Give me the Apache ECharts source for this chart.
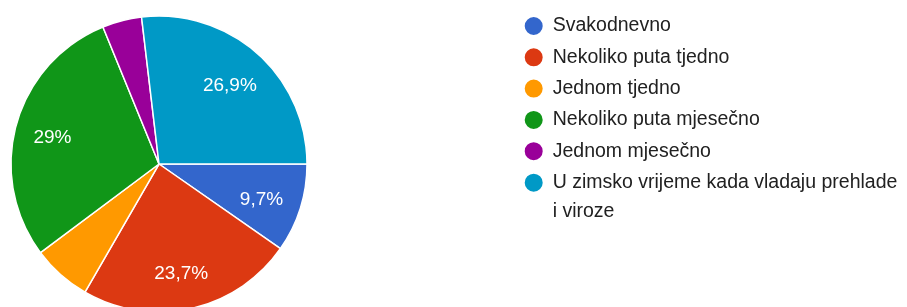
<!DOCTYPE html>
<html>
<head>
<meta charset="utf-8">
<script src="https://cdn.jsdelivr.net/npm/echarts@6/dist/echarts.min.js"></script>
<style>
  html, body { margin: 0; padding: 0; background: #fff; }
  #chart { width: 907px; height: 307px; }
</style>
</head>
<body>
<div id="chart"></div>
<script>
// odgovori (broj ispitanika po kategoriji)
const categories = [
    "Svakodnevno",
    "Nekoliko puta tjedno",
    "Jednom tjedno",
    "Nekoliko puta mjesečno",
    "Jednom mjesečno",
    "U zimsko vrijeme kada vladaju prehlade i viroze"
];
const counts = [9, 22, 6, 27, 4, 25];
const colors = ["#3366cc", "#dc3912", "#ff9900", "#109618", "#990099", "#0099c6"];

const total = counts.reduce((a, b) => a + b, 0);

// 23.7 -> "23,7%", 29.0 -> "29%"
function fmtPct(v) {
    let p = Math.round(v / total * 1000) / 10;
    return String(p).replace(".", ",") + "%";
}

const pieData = categories.map((name, i) => ({
    name: name,
    value: counts[i],
    itemStyle: { color: colors[i] }
}));

const legendText = {
    fontFamily: "Arial",
    fontSize: 19.5,
    lineHeight: 29,
    color: "#212121"
};

const myChart = echarts.init(document.getElementById("chart"), null, { renderer: "canvas" });

myChart.setOption({
    animation: false,
    legend: [
        {
            orient: "vertical",
            left: 522.7,
            top: 11.5,
            padding: 0,
            icon: "circle",
            itemWidth: 28,
            itemHeight: 20,
            itemGap: 2.3,
            selectedMode: false,
            data: categories.slice(0, 5),
            textStyle: legendText
        },
        {
            // zadnja stavka ide u dva reda, ikona uz prvi red
            // (prazan red gore da tekst ne bude centriran na ikonu)
            orient: "vertical",
            left: 522.7,
            top: 139.2,
            padding: 0,
            icon: "circle",
            itemWidth: 28,
            itemHeight: 20,
            selectedMode: false,
            data: categories.slice(5),
            formatter: name => "\n" + name.replace(" prehlade ", " prehlade\n"),
            textStyle: legendText
        }
    ],
    series: [
        {
            type: "pie",
            center: [159, 164],
            radius: [0, 148],
            startAngle: 0,
            clockwise: true,
            silent: true,
            data: pieData,
            itemStyle: { borderColor: "#fff", borderWidth: 1.5 },
            label: { show: false },
            labelLine: { show: false }
        },
        {
            // samo za postotke, malo dalje od sredine
            type: "pie",
            center: [159, 164],
            radius: [64, 148],
            startAngle: 0,
            clockwise: true,
            silent: true,
            data: categories.map((name, i) => ({ name: name, value: counts[i] })),
            itemStyle: { color: "rgba(0,0,0,0)", borderWidth: 0 },
            label: {
                show: true,
                position: "inside",
                offset: [-1.5, 3],
                fontFamily: "Arial",
                fontSize: 19,
                color: "#fff",
                formatter: p => (p.value / total >= 0.08 ? fmtPct(p.value) : "")
            },
            labelLine: { show: false }
        }
    ]
});
</script>
</body>
</html>
